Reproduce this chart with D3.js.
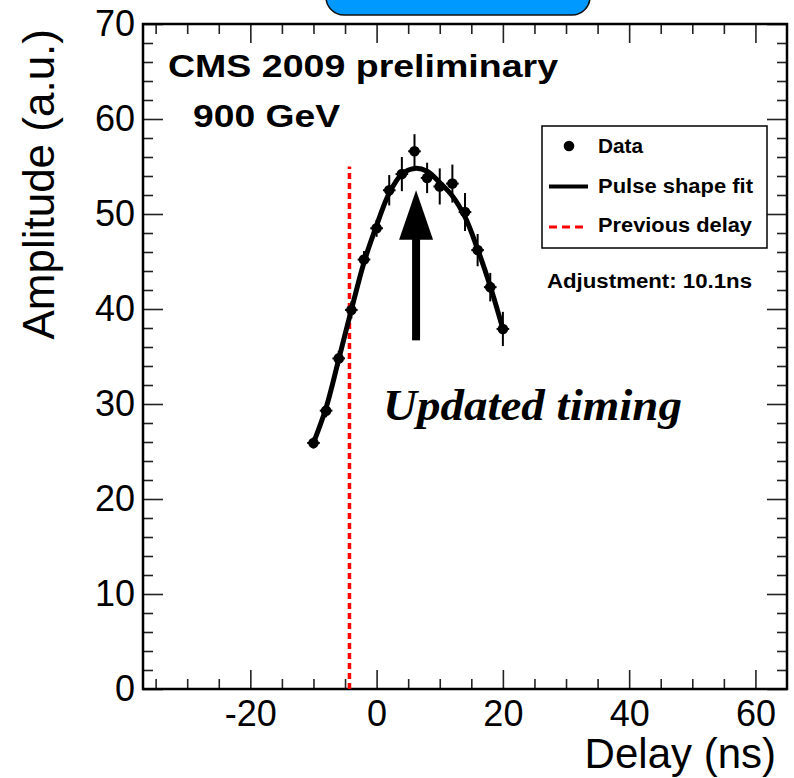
<!DOCTYPE html>
<html>
<head>
<meta charset="utf-8">
<script src="https://cdn.jsdelivr.net/npm/d3@7"></script>
<style>
body { margin: 0; background: #fff; }
svg { font-family: "Liberation Sans", Arial, Helvetica, sans-serif; }
</style>
</head>
<body>
<svg id="viz" width="794" height="778"></svg>
<script>
// measured points
var delays = [-10, -8, -6, -4, -2, 0, 2, 4, 6, 8, 10, 12, 14, 16, 18, 20];
var amplitudes = [25.9, 29.3, 34.8, 39.9, 45.2, 48.5, 52.5, 54.2, 56.6, 53.8, 52.9, 53.2, 50.2, 46.2, 42.3, 37.9];
var errors = [0.6, 0.7, 0.8, 0.9, 0.9, 0.9, 1.6, 1.8, 1.8, 1.6, 1.9, 2.0, 2.0, 1.7, 1.5, 1.8];
var halfBin = 1;

// pulse shape fit
var fitDelays = [-10, -8, -6, -4, -2, 0, 2, 4, 6, 8, 10, 12, 14, 16, 18, 20];
var fitAmplitudes = [25.9, 29.6, 34.7, 39.9, 44.9, 48.8, 52.2, 54.2, 54.8, 54.5, 53.3, 51.9, 49.7, 46.3, 42.4, 37.9];

var previousDelay = -4.3;
var previousDelayTop = 55;

// arrow "Updated timing"
var arrowDelay = 6.25;
var arrowTip = 52.5;
var arrowHeadBase = 47.3;
var arrowTail = 36.7;

var xMajorTicks = [-20, 0, 20, 40, 60];
var yMajorTicks = [0, 10, 20, 30, 40, 50, 60, 70];

var legendLabels = ["Data", "Pulse shape fit", "Previous delay"];
var legendWidths = [45, 155, 154];

var svg = d3.select("#viz");

var x = d3.scaleLinear().domain([-37, 65]).range([143, 787]);
var y = d3.scaleLinear().domain([0, 70]).range([689, 24]);

var xMinorTicks = d3.range(-35, 65, 5).filter(function(d){ return d % 20 !== 0; });
var yMinorTicks = d3.range(2, 70, 2).filter(function(d){ return d % 10 !== 0; });

var plain = function(d){ return String(d); };

var drawAxis = function(axis, tx, ty){
    var g = svg.append("g")
        .attr("transform", "translate(" + tx + "," + ty + ")")
        .call(axis);
    g.select(".domain").remove();
    g.selectAll("line").attr("stroke", "#222").attr("stroke-width", 1.6);
    g.selectAll("text").attr("font-size", 36).attr("fill", "#000")
        .style("font-family", "Liberation Sans, Arial, sans-serif");
    return g;
};

// bottom
drawAxis(d3.axisBottom(x).tickValues(xMajorTicks).tickSize(-19).tickPadding(11).tickFormat(plain), 0, 689);
drawAxis(d3.axisBottom(x).tickValues(xMinorTicks).tickSize(-10).tickFormat(""), 0, 689);
// top
drawAxis(d3.axisTop(x).tickValues(xMajorTicks).tickSize(-19).tickFormat(""), 0, 24);
drawAxis(d3.axisTop(x).tickValues(xMinorTicks).tickSize(-10).tickFormat(""), 0, 24);
// left
drawAxis(d3.axisLeft(y).tickValues(yMajorTicks).tickSize(-20).tickPadding(8).tickFormat(plain), 143, 0);
drawAxis(d3.axisLeft(y).tickValues(yMinorTicks).tickSize(-10).tickFormat(""), 143, 0);
// right
drawAxis(d3.axisRight(y).tickValues(yMajorTicks).tickSize(-20).tickFormat(""), 787, 0);
drawAxis(d3.axisRight(y).tickValues(yMinorTicks).tickSize(-10).tickFormat(""), 787, 0);

// frame
svg.append("rect")
    .attr("x", x(-37)).attr("y", y(70))
    .attr("width", x(65) - x(-37)).attr("height", y(0) - y(70))
    .attr("fill", "none").attr("stroke", "#000").attr("stroke-width", 2.5);

// axis titles
svg.append("text")
    .attr("x", 776).attr("y", 768)
    .attr("text-anchor", "end")
    .attr("font-size", 42)
    .text("Delay (ns)");

svg.append("text")
    .attr("transform", "translate(54,29) rotate(-90)")
    .attr("text-anchor", "end")
    .attr("font-size", 44)
    .text("Amplitude (a.u.)");

// blue tab at the top
svg.append("rect")
    .attr("x", 326).attr("y", -25)
    .attr("width", 264).attr("height", 40)
    .attr("rx", 18)
    .attr("fill", "#0099ff")
    .attr("stroke", "#111").attr("stroke-width", 1.5);

// previous delay
svg.append("line")
    .attr("x1", x(previousDelay)).attr("x2", x(previousDelay))
    .attr("y1", y(0)).attr("y2", y(previousDelayTop))
    .attr("stroke", "#ff0000").attr("stroke-width", 3.5)
    .attr("stroke-dasharray", "6,4");

// fit curve
var fitLine = d3.line()
    .x(function(d){ return x(d[0]); })
    .y(function(d){ return y(d[1]); })
    .curve(d3.curveCatmullRom);

svg.append("path")
    .datum(d3.zip(fitDelays, fitAmplitudes))
    .attr("d", fitLine)
    .attr("fill", "none")
    .attr("stroke", "#000")
    .attr("stroke-width", 5)
    .attr("stroke-linejoin", "round");

// data
var pts = delays.map(function(d, i){
    return { delay: d, amp: amplitudes[i], err: errors[i] };
});

svg.selectAll(".ebar").data(pts).enter()
    .append("line")
    .attr("class", "ebar")
    .attr("x1", function(d){ return x(d.delay); })
    .attr("x2", function(d){ return x(d.delay); })
    .attr("y1", function(d){ return y(d.amp - d.err); })
    .attr("y2", function(d){ return y(d.amp + d.err); })
    .attr("stroke", "#000").attr("stroke-width", 2);

svg.selectAll(".xbar").data(pts).enter()
    .append("line")
    .attr("class", "xbar")
    .attr("x1", function(d){ return x(d.delay - halfBin); })
    .attr("x2", function(d){ return x(d.delay + halfBin); })
    .attr("y1", function(d){ return y(d.amp); })
    .attr("y2", function(d){ return y(d.amp); })
    .attr("stroke", "#000").attr("stroke-width", 2);

svg.selectAll(".dot").data(pts).enter()
    .append("circle")
    .attr("class", "dot")
    .attr("cx", function(d){ return x(d.delay); })
    .attr("cy", function(d){ return y(d.amp); })
    .attr("r", 5.3)
    .attr("fill", "#000");

// arrow
var ax = x(arrowDelay);
svg.append("rect")
    .attr("x", ax - 4).attr("y", y(arrowHeadBase) - 1)
    .attr("width", 8).attr("height", y(arrowTail) - y(arrowHeadBase) + 1)
    .attr("fill", "#000");
svg.append("path")
    .attr("d", "M" + (ax - 17) + "," + y(arrowHeadBase) + "L" + (ax + 17) + "," + y(arrowHeadBase) + "L" + ax + "," + y(arrowTip) + "Z")
    .attr("fill", "#000");

svg.append("text")
    .attr("x", 383).attr("y", 420)
    .style("font-family", "'Liberation Serif', 'Times New Roman', serif")
    .attr("font-weight", "bold")
    .attr("font-style", "italic")
    .attr("font-size", 44)
    .attr("textLength", 299)
    .attr("lengthAdjust", "spacingAndGlyphs")
    .text("Updated timing");

// labels
svg.append("text")
    .attr("x", 168).attr("y", 77)
    .attr("font-weight", "bold").attr("font-size", 32)
    .attr("textLength", 390).attr("lengthAdjust", "spacingAndGlyphs")
    .text("CMS 2009 preliminary");

svg.append("text")
    .attr("x", 193).attr("y", 127)
    .attr("font-weight", "bold").attr("font-size", 32)
    .attr("textLength", 147).attr("lengthAdjust", "spacingAndGlyphs")
    .text("900 GeV");

// legend
var lg = svg.append("g");
lg.append("rect")
    .attr("x", 542).attr("y", 126)
    .attr("width", 225).attr("height", 122)
    .attr("fill", "#fff").attr("stroke", "#000").attr("stroke-width", 1.5);
lg.append("circle").attr("cx", 569).attr("cy", 146).attr("r", 5.3).attr("fill", "#000");
lg.append("line").attr("x1", 549).attr("x2", 588).attr("y1", 186.5).attr("y2", 186.5)
    .attr("stroke", "#000").attr("stroke-width", 4);
lg.append("line").attr("x1", 549).attr("x2", 588).attr("y1", 227).attr("y2", 227)
    .attr("stroke", "#ff0000").attr("stroke-width", 3).attr("stroke-dasharray", "8,5");
lg.selectAll(".lgtext").data(legendLabels).enter()
    .append("text")
    .attr("class", "lgtext")
    .attr("x", 598)
    .attr("y", function(d, i){ return 153 + i * 39.5; })
    .attr("font-weight", "bold").attr("font-size", 20)
    .attr("textLength", function(d, i){ return legendWidths[i]; })
    .attr("lengthAdjust", "spacingAndGlyphs")
    .text(function(d){ return d; });

svg.append("text")
    .attr("x", 547).attr("y", 288)
    .attr("font-weight", "bold").attr("font-size", 20)
    .attr("textLength", 205).attr("lengthAdjust", "spacingAndGlyphs")
    .text("Adjustment: 10.1ns");
</script>
</body>
</html>
